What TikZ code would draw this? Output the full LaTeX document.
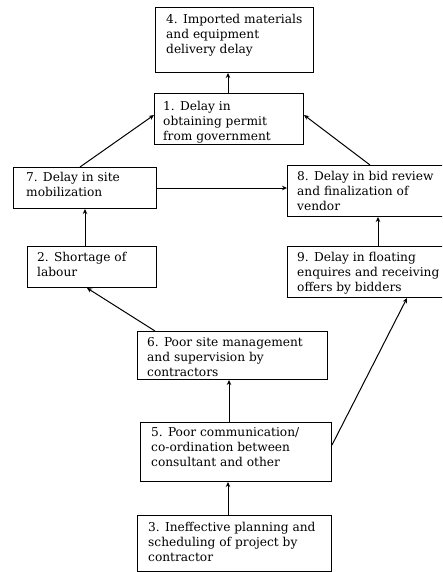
\documentclass[tikz,border=0pt]{standalone}
\usepackage{fontspec}
\setmainfont{DejaVu Serif}
\usetikzlibrary{arrows.meta}
\begin{document}
\begin{tikzpicture}[x=1pt,y=-1pt,
  box/.style={draw, line width=1pt, inner sep=0pt, anchor=north west},
  txt/.style={inner sep=0pt, anchor=north west, align=left, font=\fontsize{12.2}{15}\selectfont},
  conn/.style={line width=1pt, -{Stealth[length=5pt,width=4.5pt]}}]
\useasboundingbox (0,0) rectangle (442,572);
\clip (0,0) rectangle (442,572);
\node[box, minimum width=158pt, minimum height=65pt] (n4) at (155,7) {};
\node[txt] (t4) at ([xshift=11pt,yshift=-7.5pt]n4.north west) {4. Imported materials\\and equipment\\delivery delay};
\node[box, minimum width=149pt, minimum height=51pt] (n1) at (154,93) {};
\node[txt] (t1) at ([xshift=9pt,yshift=-8pt]n1.north west) {1. Delay in\\obtaining permit\\from government};
\node[box, minimum width=143pt, minimum height=41pt] (n7) at (13,167) {};
\node[txt] (t7) at ([xshift=13pt,yshift=-5pt]n7.north west) {7. Delay in site\\mobilization};
\node[box, minimum width=158pt, minimum height=51pt] (n8) at (287,165) {};
\node[txt] (t8) at ([xshift=10pt,yshift=-6.5pt]n8.north west) {8. Delay in bid review\\and finalization of\\vendor};
\node[box, minimum width=129pt, minimum height=41pt] (n2) at (27,246) {};
\node[txt] (t2) at ([xshift=10pt,yshift=-6.5pt]n2.north west) {2. Shortage of\\labour};
\node[box, minimum width=158pt, minimum height=51pt] (n9) at (287,246) {};
\node[txt] (t9) at ([xshift=10pt,yshift=-6.5pt]n9.north west) {9. Delay in floating\\enquires and receiving\\offers by bidders};
\node[box, minimum width=190pt, minimum height=48pt] (n6) at (137,331) {};
\node[txt] (t6) at ([xshift=10pt,yshift=-6.5pt]n6.north west) {6. Poor site management\\and supervision by\\contractors};
\node[box, minimum width=191pt, minimum height=59pt] (n5) at (140,422) {};
\node[txt] (t5) at ([xshift=11pt,yshift=-5.5pt]n5.north west) {5. Poor communication/\\co-ordination between\\consultant and other};
\node[box, minimum width=194pt, minimum height=56pt] (n3) at (137,515) {};
\node[txt] (t3) at ([xshift=11pt,yshift=-7.5pt]n3.north west) {3. Ineffective planning and\\scheduling of project by\\contractor};
% connectors
\draw[conn] ([xshift=74pt]n1.north west) -- ([xshift=74pt]n1.north west |- n4.south);
\draw[conn] ([xshift=67pt]n7.north west) -- ([yshift=-22pt]n1.north west);
\draw[conn] ([xshift=83pt]n8.north west) -- ([yshift=-22pt]n1.north east);
\draw[conn] (n7.east) -- (n7.east -| n8.west);
\draw[conn] ([xshift=58pt]n2.north west) -- ([xshift=58pt]n2.north west |- n7.south);
\draw[conn] ([xshift=91pt]n9.north west) -- ([xshift=91pt]n8.south west);
\draw[conn] ([xshift=18pt]n6.north west) -- ([xshift=60pt]n2.south west);
\draw[conn] ([xshift=89pt]n5.north west) -- ([xshift=89pt]n5.north west |- n6.south);
\draw[conn] ([yshift=-23pt]n5.north east) -- ([xshift=120pt]n9.south west);
\draw[conn] ([xshift=91pt]n3.north west) -- ([xshift=91pt]n3.north west |- n5.south);
\end{tikzpicture}
\end{document}
